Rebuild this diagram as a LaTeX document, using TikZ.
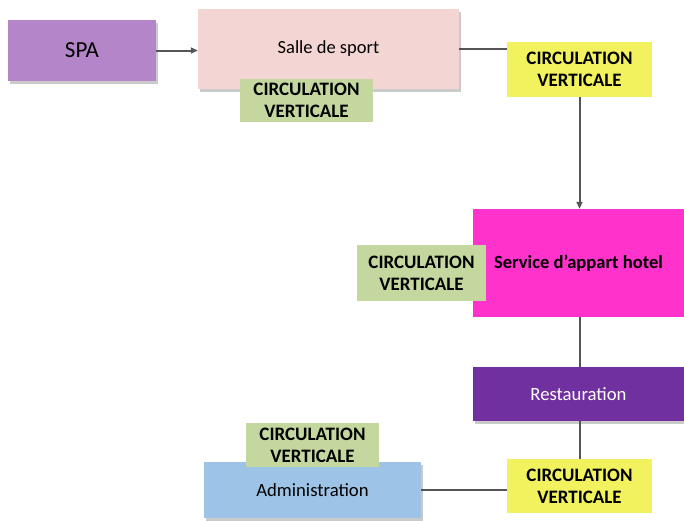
\documentclass[tikz,border=0pt]{standalone}
\usepackage{fontspec}
\setmainfont{Carlito}
\usetikzlibrary{shadows,arrows.meta}
\definecolor{spac}{HTML}{B585CA}
\definecolor{sallec}{HTML}{F3D5D3}
\definecolor{greenc}{HTML}{C4D79E}
\definecolor{yellowc}{HTML}{F2F25E}
\definecolor{magc}{HTML}{FF33CC}
\definecolor{restc}{HTML}{7030A0}
\definecolor{adminc}{HTML}{9DC3E6}
\definecolor{linec}{HTML}{555555}
\begin{document}
\begin{tikzpicture}[x=1pt,y=-1pt,
  box/.style={draw=none,inner sep=0pt,align=center,font=\fontsize{18.7}{22}\selectfont},
  shad/.style={drop shadow={shadow xshift=1.5pt,shadow yshift=-2.5pt,opacity=0.35,fill=black!60}},
  cv/.style={box,font=\fontsize{19}{22}\selectfont\bfseries},
  conn/.style={draw=linec,line width=2pt},
  arr/.style={conn,-{Triangle[length=7pt,width=6pt]}}]
\useasboundingbox (0,0) rectangle (684,520);
% boxes
\node[box,shad,fill=spac,minimum width=148pt,minimum height=61pt,font=\fontsize{23}{26}\selectfont] (spa) at (82,50.5) {SPA};
\node[box,shad,fill=sallec,minimum width=261pt,minimum height=80pt,font=\fontsize{18.5}{22}\selectfont] (salle) at (328.5,49) {Salle de sport};
\node[cv,fill=greenc,minimum width=133pt,minimum height=43pt] (cv1) at (306.5,100.5) {CIRCULATION\\VERTICALE};
\node[cv,fill=yellowc,minimum width=145pt,minimum height=55pt] (cv2) at (579.5,69.5) {CIRCULATION\\VERTICALE};
\node[box,fill=magc,minimum width=211pt,minimum height=108pt,font=\fontsize{18.6}{22}\selectfont\bfseries] (serv) at (578.5,263) {Service d’appart hotel};
\node[cv,fill=greenc,minimum width=129pt,minimum height=56pt] (cv3) at (421.5,273) {CIRCULATION\\VERTICALE};
\node[box,shad,fill=restc,text=white,minimum width=211pt,minimum height=54pt] (rest) at (578.5,394) {Restauration};
\node[cv,fill=yellowc,minimum width=145pt,minimum height=54pt] (cv4) at (579.5,486) {CIRCULATION\\VERTICALE};
\node[box,shad,fill=adminc,minimum width=217pt,minimum height=56pt] (admin) at (312.5,490) {Administration};
\node[cv,fill=greenc,minimum width=133pt,minimum height=44pt] (cv5) at (312.5,445) {CIRCULATION\\VERTICALE};
% connectors
\draw[arr] (spa.east) -- (spa.east -| salle.west);
\draw[conn] (salle.east) -- (salle.east -| cv2.west);
\draw[arr] (cv2.south) -- (cv2.south |- serv.north);
\draw[conn] (serv.south -| cv2.south) -- (rest.north -| cv2.south);
\draw[conn] (rest.south -| cv2.south) -- (cv4.north);
\draw[conn] (admin.east) -- (admin.east -| cv4.west);
\end{tikzpicture}
\end{document}
